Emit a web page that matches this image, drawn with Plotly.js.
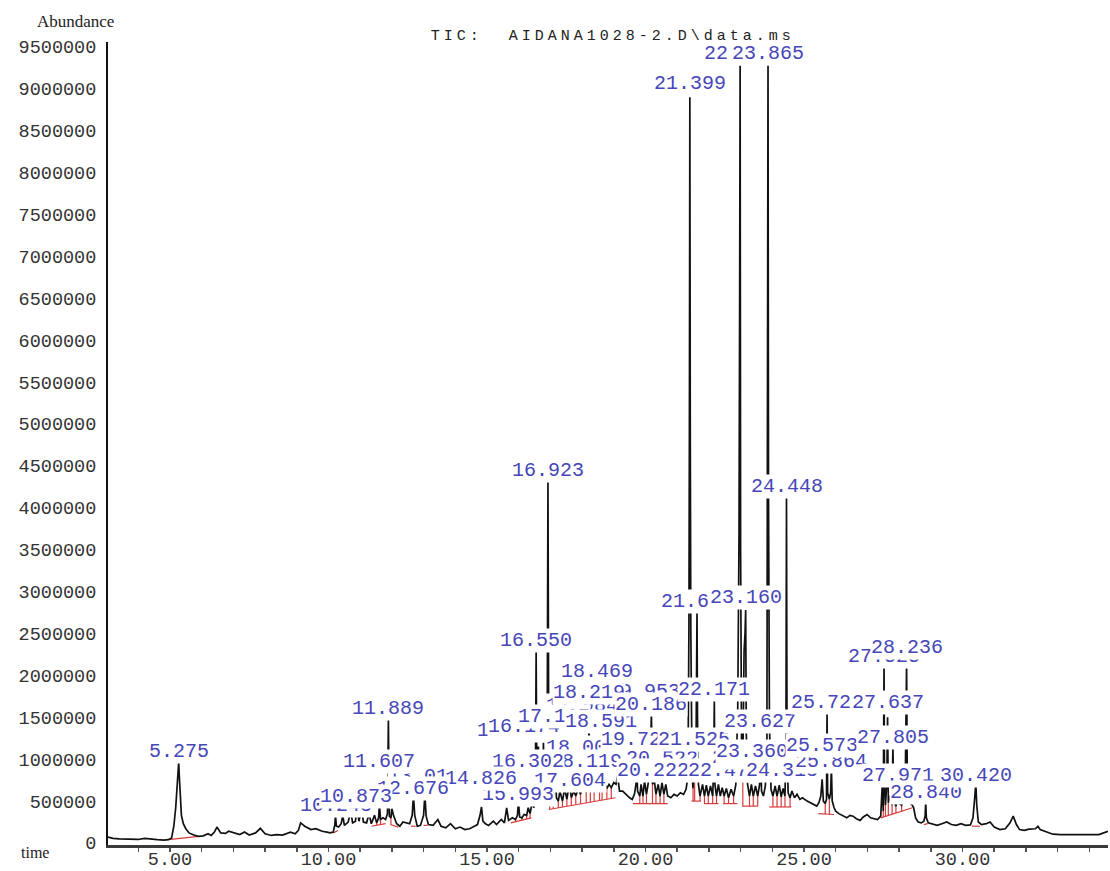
<!DOCTYPE html>
<html>
<head>
<meta charset="utf-8">
<script src="https://cdn.plot.ly/plotly-3.0.1.min.js"></script>
<style>
html,body{margin:0;padding:0;background:#fff;overflow:hidden}
#chart{width:1110px;height:871px}
.gtitle, .gtitle tspan{letter-spacing:4px !important}
</style>
</head>
<body>
<div id="chart"></div>
<script>
// ---------------- DATA ----------------
const chartTitle = "TIC: \u00a0AIDANA1028-2.D\\data.ms";
const yAxisName = "Abundance";
const xAxisName = "time";

// Total ion chromatogram, split into retention-time regions (min, abundance)
const rtA = [3.04,3.2,3.4,3.6,3.8,4.0,4.2,4.4,4.6,4.8,4.95,5.05,5.12,5.18,5.23,5.26,5.275,5.29,5.32,5.36,5.42,5.5,5.6,5.75,5.9,6.05,6.2,6.3,6.4,6.48,6.6,6.75,6.85,7.0,7.2,7.35,7.5,7.7,7.85,8.0,8.2,8.35,8.55,8.8,8.95,9.05,9.12,9.25,9.45,9.6,9.8,9.95,10.05];
const abA = [70000,55000,50000,45000,40000,42000,55000,45000,40000,35000,40000,60000,200000,420000,750000,900000,966000,820000,520000,330000,230000,170000,120000,95000,80000,85000,110000,90000,130000,190000,120000,115000,140000,125000,100000,130000,95000,120000,175000,110000,90000,100000,95000,130000,110000,150000,240000,200000,160000,170000,140000,130000,120000];

const rtB = [10.15,10.2,10.22,10.25,10.32,10.4,10.45,10.5,10.62,10.7,10.76,10.85,10.9,10.96,11.05,11.1,11.2,11.28,11.35,11.45,11.52,11.58,11.607,11.64,11.72,11.8,11.86,11.889,11.92,11.97,12.0,12.05,12.15,12.25,12.35,12.48,12.56,12.64,12.68,12.72,12.8,12.9,13.0,13.04,13.08,13.15,13.3,13.45,13.55,13.7,13.85,14.0,14.15,14.3,14.45,14.6,14.7,14.78,14.826,14.87,14.95,15.05,15.2,15.3,15.45,15.55,15.62,15.68,15.8,15.9,15.96,15.993,16.03,16.1,16.17,16.25,16.3,16.36,16.42];
const abB = [130000,220000,330000,200000,190000,230000,330000,210000,250000,380000,240000,260000,420000,260000,420000,250000,240000,350000,230000,330000,240000,300000,470000,280000,300000,280000,350000,1470000,320000,300000,410000,330000,230000,200000,250000,240000,230000,330000,570000,330000,200000,210000,330000,580000,320000,220000,210000,280000,200000,180000,230000,170000,190000,160000,170000,200000,220000,330000,430000,260000,230000,210000,260000,220000,280000,240000,420000,270000,300000,280000,330000,490000,310000,300000,340000,330000,420000,350000,480000];

const rtC = [16.48,16.53,16.55,16.57,16.6,16.62,16.65,16.7,16.76,16.78,16.81,16.86,16.9,16.923,16.945,16.98,17.02,17.05,17.09,17.15,17.19,17.25,17.3,17.38,17.45,17.52,17.6,17.66,17.74,17.8,17.88,17.95,18.02,18.08,18.13,18.18,18.219,18.26,18.32,18.38,18.43,18.469,18.5,18.55,18.591,18.63,18.7,18.78,18.85,18.92,19.0,19.07,19.12,19.18,19.28,19.4,19.5,19.58,19.65,19.7,19.721,19.75,19.82,19.86,19.92,19.97,20.03,20.08,20.14,20.186,20.22,20.28,20.33,20.4,20.46,20.52,20.58,20.64,20.7,20.8,20.9,21.0,21.1,21.2,21.28];
const abC = [420000,900000,2280000,900000,480000,1150000,500000,470000,700000,1200000,560000,600000,1400000,4310000,1400000,620000,1200000,580000,560000,1100000,540000,500000,620000,500000,650000,520000,720000,540000,620000,560000,650000,580000,700000,900000,600000,700000,1400000,650000,700000,620000,800000,1200000,680000,640000,1000000,660000,720000,650000,700000,660000,720000,700000,800000,620000,620000,570000,540000,520000,580000,700000,900000,620000,560000,700000,560000,740000,580000,700000,900000,1530000,700000,740000,580000,700000,560000,720000,580000,700000,560000,540000,580000,560000,600000,580000,640000];

const rtD = [21.34,21.37,21.385,21.399,21.413,21.43,21.47,21.5,21.525,21.55,21.59,21.61,21.625,21.64,21.67,21.72,21.8,21.86,21.92,21.98,22.05,22.12,22.15,22.171,22.19,22.24,22.3,22.36,22.42,22.48,22.55,22.62,22.7,22.78,22.85,22.91,22.95,22.97,22.985,23.0,23.03,23.07,23.11,23.14,23.16,23.18,23.22,23.28,23.34,23.4,23.47,23.54,23.6,23.627,23.66,23.72,23.78,23.83,23.85,23.865,23.88,23.91,23.96,24.02,24.09,24.15,24.22,24.28,24.34,24.4,24.43,24.448,24.465,24.5,24.56,24.62,24.7,24.78,24.87,24.95];
const abD = [800000,2600000,5000000,8900000,4800000,2500000,800000,650000,1200000,760000,900000,2000000,2760000,1500000,700000,560000,700000,560000,690000,560000,680000,560000,900000,1700000,700000,560000,700000,560000,660000,560000,650000,540000,640000,560000,700000,1600000,3700000,6500000,9300000,3500000,1200000,900000,2300000,2500000,2780000,1300000,700000,560000,700000,560000,680000,560000,700000,1230000,620000,560000,680000,1200000,4500000,9300000,4200000,1400000,640000,560000,680000,560000,690000,550000,650000,560000,1200000,4130000,1100000,600000,540000,620000,540000,580000,520000,540000];

const rtE = [25.1,25.2,25.3,25.4,25.47,25.53,25.573,25.61,25.67,25.71,25.727,25.745,25.8,25.84,25.864,25.89,25.95,26.0,26.1,26.25,26.35,26.45,26.55,26.65,26.77,26.87,26.99,27.1,27.2,27.32,27.42,27.47,27.5,27.51,27.525,27.54,27.57,27.61,27.637,27.66,27.72,27.78,27.805,27.83,27.9,27.95,27.97,28.0,28.08,28.15,28.2,28.236,28.26,28.32,28.4,28.46,28.52,28.6,28.7,28.78,28.82,28.84,28.86,28.92,29.05,29.2,29.35,29.5,29.65,29.8,29.95,30.1,30.25,30.33,30.39,30.42,30.45,30.5,30.6,30.75,30.87,31.0,31.18,31.35,31.5,31.6,31.7,31.8,31.95,32.1,32.3,32.38,32.45,32.6,32.85,33.1,33.5,34.0,34.3,34.59];
const abE = [500000,480000,460000,440000,480000,560000,760000,500000,470000,520000,1550000,600000,520000,600000,900000,500000,420000,380000,350000,320000,300000,330000,320000,290000,270000,310000,340000,300000,290000,280000,320000,700000,380000,900000,2120000,700000,450000,700000,1500000,480000,560000,450000,1150000,500000,440000,520000,850000,470000,450000,520000,900000,2120000,650000,480000,460000,420000,300000,250000,240000,260000,320000,490000,300000,240000,230000,210000,230000,250000,220000,210000,230000,210000,215000,300000,560000,716000,450000,250000,220000,230000,250000,190000,160000,170000,240000,320000,220000,160000,150000,165000,170000,200000,160000,140000,105000,100000,100000,95000,100000,140000];

// Integration windows (red baselines): start, end (min) and baseline abundance at each end
const intStart     = [4.95,10.15,11.35,11.95,12.6,13.0,15.75,16.95,19.6,21.45,21.85,22.45,23.05,23.9,25.45,27.42,28.78,30.3];
const intEnd       = [5.9,10.3,11.8,12.2,12.75,13.12,16.4,19.05,20.7,21.75,22.3,22.9,23.55,24.6,25.95,28.42,28.9,30.55];
const intBaseStart = [40000,120000,200000,220000,200000,210000,240000,400000,470000,500000,470000,470000,440000,430000,350000,300000,220000,200000];
const intBaseEnd   = [80000,150000,230000,190000,200000,210000,300000,540000,470000,500000,470000,470000,440000,430000,340000,420000,230000,200000];

// Peak labels (retention times)
const labelText = ["19.953","17.984","15.816","16.174","17.117","18.591","18.003","18.119","16.302","17.604","15.993","13.014","14.826","12.676","10.243","10.873","11.607","11.889","5.275","16.550","16.923","18.469","18.219","19.721","20.522","20.222","20.186","21.525","22.478","22.171","23.227","23.360","24.313","23.627","21.627","23.160","22.986","23.865","21.399","24.448","25.864","25.573","25.727","27.805","27.637","27.971","28.840","30.420","27.525","28.236"];
const labelRT = labelText.map(Number);

// Time axis: tick every minute, labelled every 5 minutes
const timeTickValues = [3,4,5,6,7,8,9,10,11,12,13,14,15,16,17,18,19,20,21,22,23,24,25,26,27,28,29,30,31,32,33,34];
const timeTickLabels = {5:"5.00",10:"10.00",15:"15.00",20:"20.00",25:"25.00",30:"30.00"};

// ---------------- LAYOUT HELPERS (positions, not data) ----------------
// vertical placement of each peak label (abundance units)
const labelY = [1802000,1635000,1348000,1396000,1515000,1444000,1134000,967000,967000,740000,573000,788000,764000,656000,453000,549000,967000,1599000,1086000,2422000,4439000,2041000,1790000,1229000,1014000,871000,1647000,1229000,871000,1826000,1026000,1086000,871000,1444000,2876000,2924000,9420000,9420000,9057000,4248000,967000,1169000,1671000,1253000,1671000,811000,597000,811000,2231000,2327000];

const pairs = [[rtA,abA],[rtB,abB],[rtC,abC],[rtD,abD],[rtE,abE]];
pairs.forEach((p,i)=>{ if(p[0].length!==p[1].length) throw new Error("length mismatch region "+i+": "+p[0].length+" vs "+p[1].length); });
if (labelText.length !== labelY.length) throw new Error("label mismatch "+labelText.length+" vs "+labelY.length);

const rt = [].concat(rtA, rtB, rtC, rtD, rtE);
const ab = [].concat(abA, abB, abC, abD, abE);

// red integration marks: baseline segments + drop lines at valleys
const redX = [], redY = [];
for (let w = 0; w < intStart.length; w++) {
  const s = intStart[w], e = intEnd[w], bs = intBaseStart[w], be = intBaseEnd[w];
  const base = t => bs + (be - bs) * (t - s) / (e - s);
  redX.push(s, e, null); redY.push(bs, be, null);
  for (let i = 1; i < rt.length - 1; i++) {
    if (rt[i] > s && rt[i] < e && ab[i] < ab[i-1] && ab[i] <= ab[i+1]) {
      redX.push(rt[i], rt[i], null); redY.push(base(rt[i]), ab[i], null);
    }
  }
}

const traces = [
  {x: redX, y: redY, type: 'scatter', mode: 'lines', line: {color: '#d83a3a', width: 1.2}, hoverinfo: 'skip', connectgaps: false},
  {x: rt, y: ab, type: 'scatter', mode: 'lines', line: {color: '#111111', width: 1.7}, hoverinfo: 'skip'}
];

const annotations = labelText.map((t, i) => ({
  x: labelRT[i], y: labelY[i], xref: 'x', yref: 'y', text: t, showarrow: false,
  xanchor: 'center', yanchor: 'middle', bgcolor: '#ffffff', borderpad: 0,
  font: {family: 'Liberation Mono, DejaVu Sans Mono, monospace', size: 20, color: '#4646b9'}
}));
annotations.push({
  x: -0.033, y: 1.025, xref: 'paper', yref: 'paper', text: yAxisName, showarrow: false,
  xanchor: 'center', yanchor: 'middle',
  font: {family: 'Liberation Serif, serif', size: 17, color: '#222'}
});
annotations.push({
  x: -0.073, y: -0.009, xref: 'paper', yref: 'paper', text: xAxisName, showarrow: false,
  xanchor: 'center', yanchor: 'middle',
  font: {family: 'Liberation Serif, serif', size: 16, color: '#222'}
});

const layout = {
  width: 1110, height: 871,
  margin: {l: 108, r: 2, t: 42, b: 26, pad: 0},
  paper_bgcolor: '#ffffff', plot_bgcolor: '#ffffff',
  showlegend: false,
  title: {
    text: chartTitle, xref: 'container', yref: 'container', x: 0.552, y: 0.96,
    xanchor: 'center', yanchor: 'middle',
    font: {family: 'Liberation Mono, monospace', size: 15, color: '#222'}
  },
  xaxis: {
    range: [3.044, 34.59], showgrid: false, zeroline: false,
    showline: true, linecolor: '#3a3a3a', linewidth: 3,
    tickmode: 'array', tickvals: timeTickValues,
    ticktext: timeTickValues.map(v => timeTickLabels[v] || ''),
    ticks: 'outside', ticklen: 4, tickwidth: 1.5, tickcolor: '#555',
    tickfont: {family: 'Liberation Mono, monospace', size: 18.5, color: '#333'},
    ticklabelstandoff: -9
  },
  yaxis: {
    range: [-24000, 9558000], showgrid: false, zeroline: false,
    showline: true, linecolor: '#111', linewidth: 2,
    tick0: 0, dtick: 500000, tickformat: 'd', ticks: '',
    tickfont: {family: 'Liberation Mono, monospace', size: 18.5, color: '#333'},
    ticklabelstandoff: 6
  },
  annotations: annotations
};

Plotly.newPlot('chart', traces, layout, {staticPlot: true, displayModeBar: false});
</script>
</body>
</html>
